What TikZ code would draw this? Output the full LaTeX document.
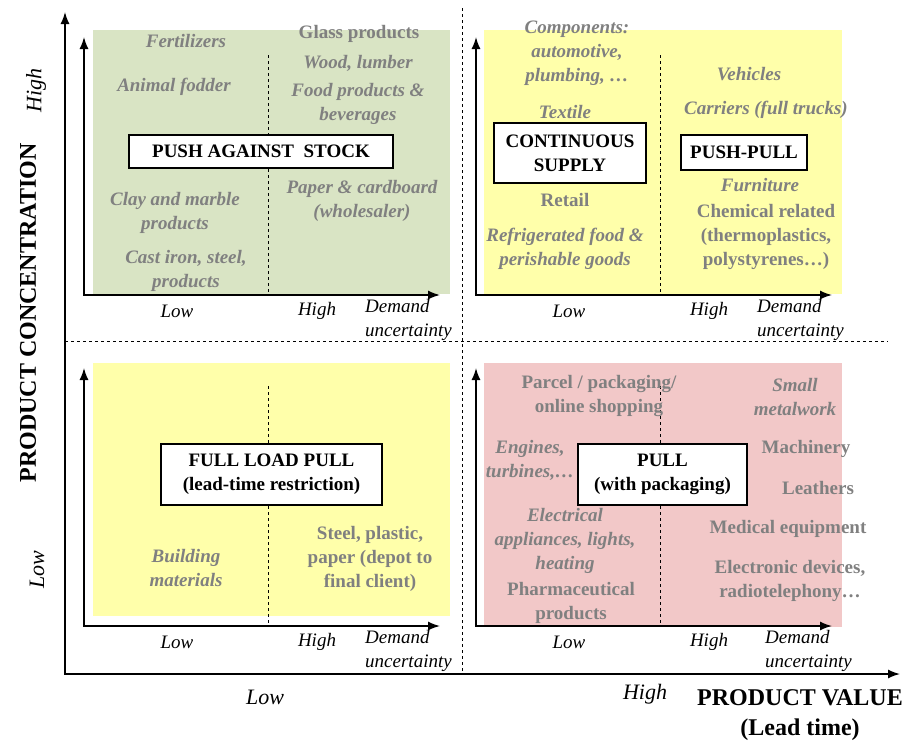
\documentclass[tikz,border=0pt]{standalone}
\usepackage{fontspec}
\setmainfont{Liberation Serif}
\usetikzlibrary{arrows.meta}
\definecolor{catgray}{RGB}{128,128,128}
\definecolor{quadgreen}{RGB}{217,228,196}
\definecolor{quadyellow}{RGB}{255,255,170}
\definecolor{quadpink}{RGB}{242,200,200}

\begin{document}
\begin{tikzpicture}[x=1pt, y=-1pt, >={Latex[length=12pt,width=9pt]}, font=\fontsize{19}{24}\selectfont,
	cat/.style={text=catgray, font=\fontsize{19}{24}\selectfont\bfseries\itshape, align=center},
	catup/.style={text=catgray, font=\fontsize{19}{24}\selectfont\bfseries, align=center},
	strat/.style={draw, line width=1.2pt, fill=white, font=\fontsize{19}{24}\selectfont\bfseries, align=center, inner sep=0pt},
	axlbl/.style={font=\fontsize{19}{24}\selectfont\itshape, align=left},
	mainlbl/.style={font=\fontsize{24}{30}\selectfont\bfseries, align=center}]
	\useasboundingbox (0,0) rectangle (915,742);
	% Hintergruende
	\fill[quadgreen]  (93,30)   rectangle (450,294);
	\fill[quadyellow] (484,30)  rectangle (842,294);
	\fill[quadyellow] (93,363)  rectangle (450,616);
	\fill[quadpink]   (484,363) rectangle (842,627);
	% Hauptachsen
	\draw[<->, line width=1.5pt] (65,12) |- (900,674);
	\draw[dashed, line width=1pt] (462,8) -- (462,674);
	\draw[dashed, line width=1pt] (65,341) -- (888,341);
	% Achsen der Quadranten
	\foreach \dx/\dy/\ddx/\q in {0/0/0/a, 392/0/392/b, 0/331/0/c, 392/331/400/d} {
		\draw[<->, line width=1.5pt] (84+\dx,37+\dy) |- (440+\dx,295+\dy);
		\draw[dashed, line width=1pt] (268+\dx,55+\dy) -- (268+\dx,295+\dy);
		\node[axlbl] (low\q)  at (177+\dx,311+\dy) {Low};
		\node[axlbl] (high\q) at (317+\dx,311+\dy) {High};
		\node[axlbl, anchor=west, inner sep=0pt] (dem\q) at (365+\ddx,320+\dy) {Demand\\uncertainty};
	}
	% Strategien
	\node[strat, minimum width=264pt, minimum height=33pt] (push)  at (261,151.5) {PUSH AGAINST\ \ STOCK};
	\node[strat, minimum width=152pt, minimum height=60pt] (cont)  at (570,153)   {CONTINUOUS\\SUPPLY};
	\node[strat, minimum width=126pt, minimum height=35pt] (ppull) at (744,152.5) {PUSH-PULL};
	\node[strat, minimum width=221pt, minimum height=61pt] (full)  at (271.5,474.5) {FULL LOAD PULL\\(lead-time restriction)};
	\node[strat, minimum width=169pt, minimum height=61pt] (pull)  at (662.5,474.5) {PULL\\(with packaging)};
	% Produkte oben links
	\node[cat]   (fert)  at (186,41)  {Fertilizers};
	\node[cat]   (fodd)  at (174,87)  {Animal fodder};
	\node[cat]   (clay)  at (175,213) {Clay and marble\\products};
	\node[cat]   (cast)  at (186,271) {Cast iron, steel,\\products};
	\node[catup] (glass) at (359,34)  {Glass products};
	\node[cat]   (wood)  at (358,63)  {Wood, lumber};
	\node[cat]   (food)  at (358,104) {Food products \&\\beverages};
	\node[cat]   (paper) at (362,201) {Paper \& cardboard\\(wholesaler)};
	% Produkte oben rechts
	\node[cat]   (comp)  at (577,53)  {Components:\\automotive,\\plumbing, \dots};
	\node[cat]   (text)  at (565,112) {Textile};
	\node[catup] (ret)   at (565,200) {Retail};
	\node[cat]   (refr)  at (565,249) {Refrigerated food \&\\perishable goods};
	\node[cat]   (veh)   at (749,74)  {Vehicles};
	\node[cat]   (carr)  at (766,110) {Carriers (full trucks)};
	\node[cat]   (furn)  at (760,185) {Furniture};
	\node[catup] (chem)  at (766,237) {Chemical related\\(thermoplastics,\\polystyrenes\dots)};
	% Produkte unten links
	\node[cat]   (build) at (186,568) {Building\\materials};
	\node[catup] (steel) at (370,559) {Steel, plastic,\\paper (depot to\\final client)};
	% Produkte unten rechts
	\node[catup] (parc)  at (599,396) {Parcel / packaging/\\online shopping};
	\node[cat]   (small) at (795,397) {Small\\metalwork};
	\node[cat]   (eng)   at (530,460) {Engines,\\turbines,\dots};
	\node[catup] (mach)  at (806,449) {Machinery};
	\node[catup] (leat)  at (818,488) {Leathers};
	\node[cat]   (elec)  at (565,541) {Electrical\\appliances, lights,\\heating};
	\node[catup] (med)   at (788,529) {Medical equipment};
	\node[catup] (pharm) at (571,603) {Pharmaceutical\\products};
	\node[catup] (dev)   at (790,581) {Electronic devices,\\radiotelephony\dots};
	% Hauptachsen beschriften
	\node[axlbl, font=\fontsize{22}{26}\selectfont\itshape] (vlow)  at (265,697) {Low};
	\node[axlbl, font=\fontsize{22}{26}\selectfont\itshape] (vhigh) at (645,694) {High};
	\node[mainlbl] (value) at (800,715) {PRODUCT VALUE\\(Lead time)};
	\node[mainlbl, rotate=90] (conc) at (28,313) {PRODUCT CONCENTRATION};
	\node[axlbl, font=\fontsize{22}{26}\selectfont\itshape, rotate=90] (chigh) at (36,90) {High};
	\node[axlbl, font=\fontsize{22}{26}\selectfont\itshape, rotate=90] (clow)  at (37,570) {Low};
\end{tikzpicture}
\end{document}
